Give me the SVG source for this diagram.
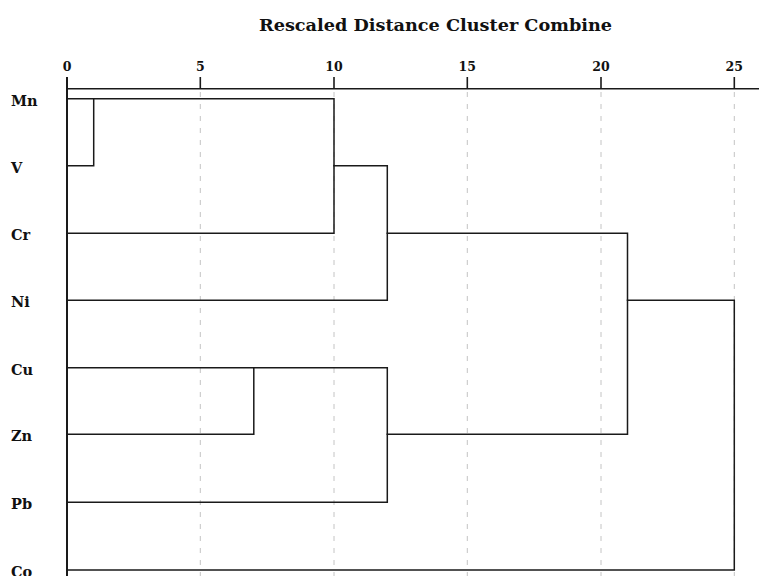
<svg xmlns="http://www.w3.org/2000/svg" width="759" height="576" viewBox="0 0 759 576">
<style>
  .t{font-family:"DejaVu Serif","Liberation Serif",serif;font-weight:bold;fill:#111}
  .title{font-size:16px}
  .tick{font-size:12.5px}
  .lab{font-size:14.5px}
  .grid{stroke:#c4c4c4;stroke-width:1;stroke-dasharray:5 7;fill:none}
  .axis{stroke:#1a1a1a;stroke-width:1.6;fill:none}
  .ln{stroke:#1a1a1a;stroke-width:1.5;fill:none;stroke-linejoin:miter;stroke-linecap:square}
</style>
<rect width="759" height="576" fill="#fff"/>
<text class="t title" x="259" y="31" textLength="353" lengthAdjust="spacingAndGlyphs">Rescaled Distance Cluster Combine</text>
<g id="grid">
  <line class="grid" x1="200.3" y1="92" x2="200.3" y2="576"/>
  <line class="grid" x1="334" y1="92" x2="334" y2="576"/>
  <line class="grid" x1="467.3" y1="92" x2="467.3" y2="576"/>
  <line class="grid" x1="601" y1="92" x2="601" y2="576"/>
  <line class="grid" x1="734.3" y1="92" x2="734.3" y2="576"/>
</g>
<g id="axis">
  <line class="axis" x1="67" y1="88.7" x2="759" y2="88.7"/>
  <line class="axis" x1="67" y1="77" x2="67" y2="576" style="stroke-width:2"/>
  <line class="axis" x1="200.3" y1="77" x2="200.3" y2="88.7"/>
  <line class="axis" x1="334" y1="77" x2="334" y2="88.7"/>
  <line class="axis" x1="467.3" y1="77" x2="467.3" y2="88.7"/>
  <line class="axis" x1="601" y1="77" x2="601" y2="88.7"/>
  <line class="axis" x1="734.3" y1="77" x2="734.3" y2="88.7"/>
  <g class="t tick" text-anchor="middle">
    <text x="67" y="71">0</text>
    <text x="200.3" y="71">5</text>
    <text x="334" y="71">10</text>
    <text x="467.3" y="71">15</text>
    <text x="601" y="71">20</text>
    <text x="734.3" y="71">25</text>
  </g>
</g>
<g id="node-Mn"><text class="t lab" x="11" y="106">Mn</text></g>
<g id="node-V"><text class="t lab" x="11" y="173">V</text></g>
<g id="node-Cr"><text class="t lab" x="11" y="240">Cr</text></g>
<g id="node-Ni"><text class="t lab" x="11" y="307">Ni</text></g>
<g id="node-Cu"><text class="t lab" x="11" y="375">Cu</text></g>
<g id="node-Zn"><text class="t lab" x="11" y="441">Zn</text></g>
<g id="node-Pb"><text class="t lab" x="11" y="509">Pb</text></g>
<g id="node-Co"><text class="t lab" x="11" y="577">Co</text></g>
<g id="connectors">
  <polyline class="ln" points="67,98.7 93.7,98.7 93.7,165.7 67,165.7"/>
  <polyline class="ln" points="93.7,98.7 334,98.7 334,233.3 67,233.3"/>
  <polyline class="ln" points="334,165.7 387.3,165.7 387.3,300.3 67,300.3"/>
  <polyline class="ln" points="67,367.7 253.8,367.7 253.8,434.3 67,434.3"/>
  <polyline class="ln" points="253.8,367.7 387.3,367.7 387.3,502.3 67,502.3"/>
  <polyline class="ln" points="387.3,233.3 627.5,233.3 627.5,434.3 387.3,434.3"/>
  <polyline class="ln" points="627.5,300.3 734.3,300.3 734.3,570 67,570"/>
</g>
</svg>
